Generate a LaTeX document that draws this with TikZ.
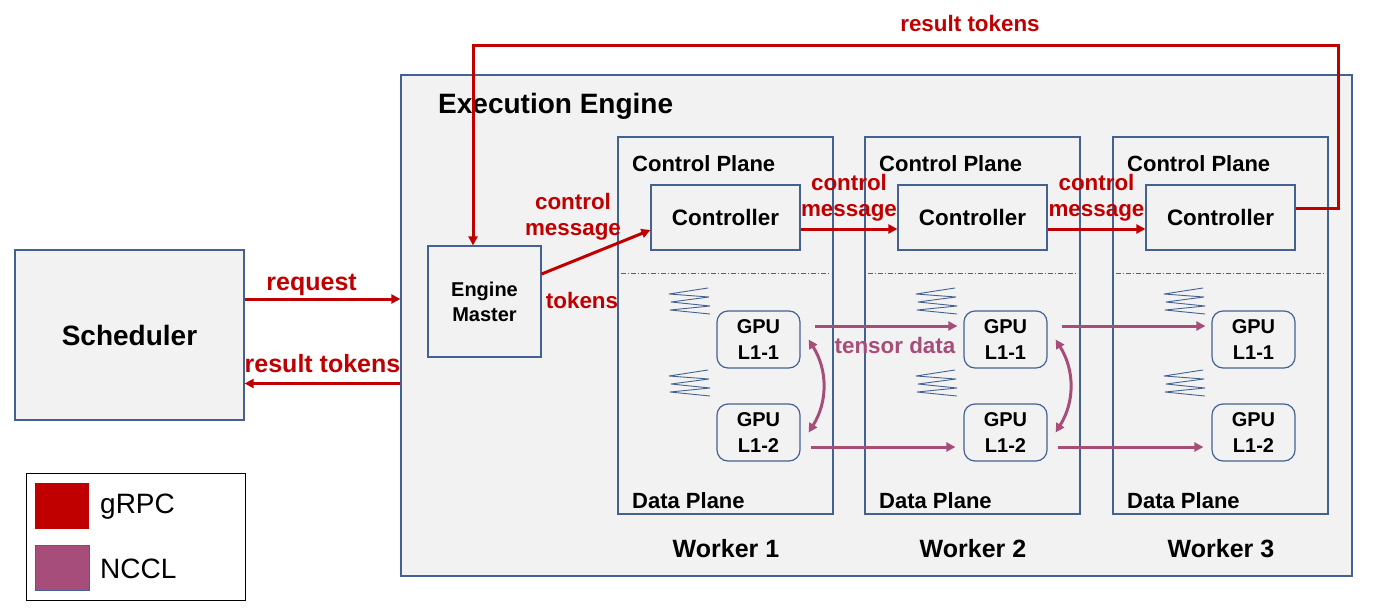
\documentclass[tikz,border=0pt]{standalone}
\usepackage{fontspec}
\setmainfont{Liberation Sans}
\usetikzlibrary{positioning,arrows.meta}
\definecolor{grpc}{RGB}{192,0,0}
\definecolor{nccl}{RGB}{166,77,121}
\definecolor{edge}{RGB}{68,98,145}
\definecolor{panel}{RGB}{242,242,242}
\tikzset{
  >={Triangle[length=9pt,width=9pt]},
  block/.style={draw=edge, fill=panel, line width=1.2pt, inner sep=0pt},
  gpubox/.style={block, rounded corners=11pt, minimum width=83pt, minimum height=57pt,
    align=center, font=\fontsize{20}{26}\selectfont\bfseries},
  plane/.style={anchor=base west, inner sep=0pt, font=\fontsize{22}{26}\selectfont\bfseries},
  rpc/.style={grpc, line width=3pt, ->},
  nc/.style={nccl, line width=3pt},
  redlbl/.style={text=grpc, inner sep=0pt, align=center, font=\fontsize{22.4}{26}\selectfont\bfseries},
  sidelbl/.style={text=grpc, inner sep=0pt, anchor=base, font=\fontsize{25}{30}\selectfont\bfseries},
  spring/.pic={\draw[edge, line width=0.9pt, line join=round] (0,0) -- (-39,6) -- (1,9) -- (-37,14) -- (2,18) -- (-38,22) -- (2,26);}
}
\begin{document}
\begin{tikzpicture}[x=1pt,y=-1pt]
  \useasboundingbox (0,0) rectangle (1379,613);

  % scheduler and legend
  \node[block, minimum width=229pt, minimum height=170pt, font=\fontsize{28}{34}\selectfont\bfseries] (sched) at (129.5,335) {Scheduler};
  \node[draw=black, fill=white, line width=1pt, minimum width=219pt, minimum height=127pt, inner sep=0pt] (legend) at (135.5,536.5) {};
  \node[fill=grpc, minimum width=54pt, minimum height=46pt, inner sep=0pt] (keyrpc) at (62,506) {};
  \node[fill=nccl, draw=edge, line width=1pt, minimum width=54pt, minimum height=45pt, inner sep=0pt] (keync) at (62,567.5) {};
  \node[anchor=base west, inner sep=0pt, font=\fontsize{28}{34}\selectfont] (txtrpc) at (100,513) {gRPC};
  \node[anchor=base west, inner sep=0pt, font=\fontsize{28}{34}\selectfont] (txtnc) at (100,578) {NCCL};

  % execution engine
  \node[block, minimum width=951pt, minimum height=501pt] (engine) at (876.5,325.5) {};
  \node[anchor=base west, inner sep=0pt, font=\fontsize{28}{34}\selectfont\bfseries] (title) at (438,113) {Execution Engine};
  \node[block, minimum width=113pt, minimum height=111pt, align=center, font=\fontsize{20}{25}\selectfont\bfseries] (em) at (484.5,301.5) {Engine\\Master};

  \foreach \w/\x in {1/618, 2/865, 3/1113}{
    \node[block, minimum width=215pt, minimum height=377pt] (w\w) at (\x+107.5,325.5) {};
    \node[plane] (cp\w) at (\x+14,171) {Control Plane};
    \node[block, minimum width=149pt, minimum height=65pt, font=\fontsize{22.4}{26}\selectfont\bfseries] (c\w) at (\x+107.5,217.5) {Controller};
    \draw[edge, line width=0.8pt, dash pattern=on 5pt off 2pt on 1pt off 2pt] (\x+3,273) -- (\x+213,273);
    \pic at (\x+90,288) {spring};
    \pic at (\x+90,370) {spring};
    \node[gpubox] (g\w1) at (\x+140.5,339.5) {GPU\\L1-1};
    \node[gpubox] (g\w2) at (\x+140.5,432.5) {GPU\\L1-2};
    \node[plane] (dp\w) at (\x+14,508) {Data Plane};
    \node[font=\fontsize{25}{30}\selectfont\bfseries] (wl\w) at (\x+108,549) {Worker \w};
  }

  % gRPC traffic
  \coordinate (rq) at ([yshift=36pt]sched.east);
  \coordinate (rs) at ([yshift=-48.5pt]sched.east);
  \draw[rpc] (rq) -- (rq -| engine.west) node[sidelbl, pos=.43, yshift=9pt] {request};
  \draw[rpc] (rs -| engine.west) -- (rs) node[sidelbl, midway, yshift=11pt] {result tokens};
  \draw[rpc] ([yshift=27.5pt]em.east) -- ([yshift=-12.5pt]c1.west);
  \node[redlbl] (msg) at (573,216.5) {control\\message};
  \node[redlbl] (tok) at (582,300) {tokens};
  \coordinate (back) at (1338,45);
  \draw[rpc] ([yshift=9.5pt]c3.east) -| (back) -| ([xshift=-11.5pt]em.north);
  \node[redlbl] (res) at (970,23) {result tokens};

  \foreach \a/\b in {1/2, 2/3}{
    \draw[rpc] ([yshift=-11.5pt]c\a.east) -- ([yshift=-11.5pt]c\b.west)
      node[redlbl, midway, yshift=31.5pt] {control\\message};
    % NCCL traffic
    \draw[nc, ->] ([xshift=14pt,yshift=13.5pt]g\a1.east) -- ([xshift=-6pt,yshift=13.5pt]g\b1.west);
    \draw[nc, ->] ([xshift=10pt,yshift=-14.5pt]g\a2.east) -- ([xshift=-8pt,yshift=-14.5pt]g\b2.west);
    \draw[nc, <->] ([xshift=8pt]g\a1.east) to[bend left=32] ([xshift=8pt]g\a2.east);
  }
  \node[text=nccl, inner sep=0pt, font=\fontsize{22.4}{26}\selectfont\bfseries] (td) at (895,345) {tensor data};
\end{tikzpicture}
\end{document}
